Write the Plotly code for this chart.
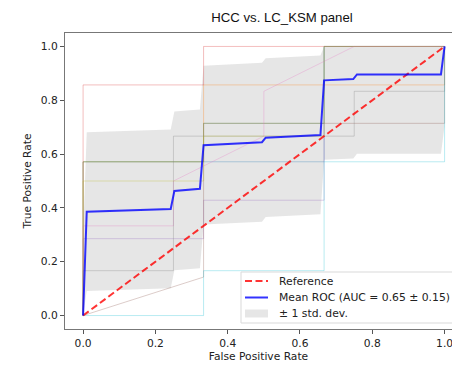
import numpy as np
import plotly.graph_objects as go

# Per-fold ROC curves (false positive rate, true positive rate)
fold_fpr = [
    [0, 0, 0.6667, 0.6667, 1],
    [0, 0, 0.3333, 0.3333, 1, 1],
    [0, 0, 0.3333, 0.3333, 0.6667, 0.6667, 1],
    [0, 0, 0.3333, 0.3333, 1],
    [0, 0, 0.3333, 0.3333, 0.6667, 0.6667, 1],
    [0, 0.3333, 0.3333, 1, 1],
    [0, 0, 0.25, 0.25, 0.5, 0.5, 0.75, 1],
    [0, 0, 0.25, 0.25, 0.75, 0.75, 1, 1],
    [0, 0, 0.3333, 0.3333, 0.6667, 0.6667, 1],
    [0, 0.3333, 0.3333, 0.6667, 0.6667, 1, 1],
]
fold_tpr = [
    [0, 0.5714, 0.5714, 1, 1],
    [0, 0.5714, 0.5714, 0.8571, 0.8571, 1],
    [0, 0.5714, 0.5714, 0.7143, 0.7143, 1, 1],
    [0, 0.8571, 0.8571, 1, 1],
    [0, 0.2857, 0.2857, 0.4286, 0.4286, 1, 1],
    [0, 0.1429, 0.7143, 0.7143, 1],
    [0, 0.3333, 0.3333, 0.5, 0.6667, 0.8333, 1, 1],
    [0, 0.1667, 0.1667, 0.6667, 0.6667, 0.8333, 0.8333, 1],
    [0, 0.5, 0.5, 0.6667, 0.6667, 1, 1],
    [0, 0, 0.1667, 0.1667, 0.5714, 0.5714, 1],
]
fold_colors = ["#1f77b4", "#ff7f0e", "#2ca02c", "#d62728", "#9467bd",
               "#8c564b", "#e377c2", "#7f7f7f", "#bcbd22", "#17becf"]

# Mean ROC curve (breakpoints on the common FPR grid)
mean_fpr = [0.0, 0.0101, 0.2424, 0.2525, 0.3232, 0.3333, 0.4949, 0.5051,
            0.6566, 0.6667, 0.7475, 0.7576, 0.9899, 1.0]
mean_tpr = [0.0, 0.386, 0.396, 0.463, 0.471, 0.633, 0.644, 0.661,
            0.671, 0.874, 0.879, 0.896, 0.896, 1.0]
std_tpr = 0.295
std_auc = 0.15

# Chance diagonal
ref_x = [0, 1]
ref_y = [0, 1]

tick_vals = [0.0, 0.2, 0.4, 0.6, 0.8, 1.0]
tick_text = ["0.0", "0.2", "0.4", "0.6", "0.8", "1.0"]

W, H = 452, 365
ML, MR, MT, MB = 65, 0, 33, 36
PW, PH = W - ML - MR, H - MT - MB

REF_COLOR = "rgba(255,0,0,0.8)"
MEAN_COLOR = "rgba(0,0,255,0.8)"
BAND_COLOR = "rgba(128,128,128,0.2)"
REF_DASH = "7px,3.5px"


def rgba(hex_color, alpha):
    h = hex_color.lstrip("#")
    r, g, b = int(h[0:2], 16), int(h[2:4], 16), int(h[4:6], 16)
    return f"rgba({r},{g},{b},{alpha})"


def px(x):
    return (x - ML) / PW


def py(y):
    return (H - MB - y) / PH


mean_arr = np.array(mean_tpr)
upper = np.minimum(mean_arr + std_tpr, 1)
lower = np.maximum(mean_arr - std_tpr, 0)
mean_auc = np.trapezoid(mean_arr, np.array(mean_fpr))
mean_label = f"Mean ROC (AUC = {mean_auc:.2f} ± {std_auc:.2f})"

fig = go.Figure()

# ±1 std band
fig.add_trace(go.Scatter(x=mean_fpr, y=lower, mode="lines",
                         line=dict(width=0, color="rgba(128,128,128,0)"),
                         showlegend=False, hoverinfo="skip"))
fig.add_trace(go.Scatter(x=mean_fpr, y=upper, mode="lines", fill="tonexty",
                         fillcolor=BAND_COLOR, line=dict(width=0, color=BAND_COLOR),
                         name="± 1 std. dev.", showlegend=False))

for i, (fx, fy, c) in enumerate(zip(fold_fpr, fold_tpr, fold_colors)):
    fig.add_trace(go.Scatter(x=fx, y=fy, mode="lines", name=f"ROC fold {i}",
                             line=dict(width=1, color=rgba(c, 0.3)),
                             showlegend=False))

fig.add_trace(go.Scatter(x=ref_x, y=ref_y, mode="lines", name="Reference",
                         line=dict(width=2, color=REF_COLOR, dash=REF_DASH),
                         showlegend=False))

fig.add_trace(go.Scatter(x=mean_fpr, y=mean_tpr, mode="lines", name=mean_label,
                         line=dict(width=2, color=MEAN_COLOR), showlegend=False))

# Legend box (lower right, drawn on top of the curves)
shapes = [
    dict(type="rect", xref="paper", yref="paper", layer="above",
         x0=px(241), x1=px(459), y0=py(323), y1=py(272),
         fillcolor="rgba(255,255,255,0.8)", line=dict(color="#d9d9d9", width=1)),
    dict(type="line", xref="paper", yref="paper", layer="above",
         x0=px(245), x1=px(268), y0=py(281), y1=py(281),
         line=dict(color=REF_COLOR, width=2, dash=REF_DASH)),
    dict(type="line", xref="paper", yref="paper", layer="above",
         x0=px(245), x1=px(268), y0=py(297.5), y1=py(297.5),
         line=dict(color=MEAN_COLOR, width=2)),
    dict(type="rect", xref="paper", yref="paper", layer="above",
         x0=px(245), x1=px(268), y0=py(317.5), y1=py(309.5),
         fillcolor=BAND_COLOR, line=dict(width=0)),
]
legend_font = dict(family="DejaVu Sans", size=10.8, color="#222")
annotations = [
    dict(text=t, xref="paper", yref="paper", x=px(277), y=py(yc),
         xanchor="left", yanchor="middle", showarrow=False, font=legend_font)
    for t, yc in [("Reference", 281), (mean_label, 297.5), ("± 1 std. dev.", 313.5)]
]

axis_font = dict(family="DejaVu Sans", size=10.7, color="#222")
fig.update_layout(
    width=W, height=H,
    margin=dict(l=ML, r=MR, t=MT, b=MB),
    paper_bgcolor="white", plot_bgcolor="white",
    showlegend=False,
    shapes=shapes, annotations=annotations,
    title=dict(text="HCC vs. LC_KSM panel", x=282 / W, xref="container",
               xanchor="center", y=1 - 17 / H, yref="container", yanchor="middle",
               font=dict(family="Liberation Sans", size=13.2, color="#111")),
    xaxis=dict(range=[-0.05, 1.0205], tickvals=tick_vals, ticktext=tick_text,
               ticks="outside", ticklen=4, tickwidth=1, tickcolor="#555",
               ticklabeloverflow="allow",
               showline=True, linecolor="#777", linewidth=1.3, mirror=True,
               showgrid=False, zeroline=False, tickfont=axis_font,
               title=dict(text="False Positive Rate", font=axis_font, standoff=2)),
    yaxis=dict(range=[-0.05, 1.05], tickvals=tick_vals, ticktext=tick_text,
               ticks="outside", ticklen=4, tickwidth=1, tickcolor="#555",
               showline=True, linecolor="#777", linewidth=1.3,
               showgrid=False, zeroline=False, tickfont=axis_font,
               title=dict(text="True Positive Rate", font=axis_font, standoff=6)),
)

fig.write_html("out.html")
